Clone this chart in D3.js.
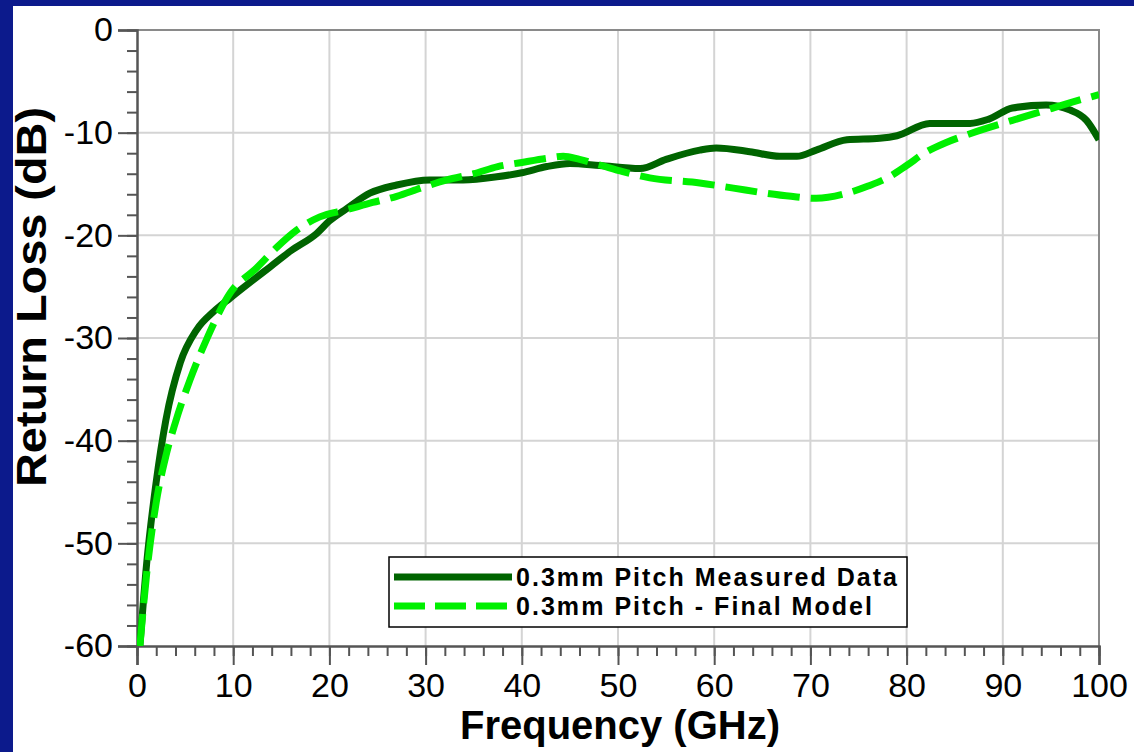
<!DOCTYPE html>
<html>
<head>
<meta charset="utf-8">
<script src="https://cdn.jsdelivr.net/npm/d3@7"></script>
<style>
  html, body { margin: 0; padding: 0; background: #ffffff; }
  svg { display: block; font-family: "Liberation Sans", Arial, sans-serif; }
</style>
</head>
<body>
<script>
// measured return loss (dark green, solid)
const measuredFreq = [0.3, 1, 2, 3, 4.5, 6.2, 8, 9.7, 12, 13.8, 16, 18.7, 20, 21.8, 24.2, 27, 30.4, 33.9, 37.4, 40, 42.6, 45, 48.1, 52.3, 55, 58.5, 60.2, 63.7, 66.8, 68.6, 70.6, 73.8, 77.2, 79, 82.4, 86.6, 88.5, 91, 94.5, 97, 98.7, 100];
const measuredDb = [-60, -52, -44, -38, -32.4, -29.2, -27.4, -26.1, -24.4, -23.1, -21.5, -19.8, -18.6, -17.4, -15.9, -15.1, -14.6, -14.6, -14.3, -13.9, -13.3, -13.0, -13.2, -13.5, -12.6, -11.7, -11.5, -11.85, -12.3, -12.3, -11.7, -10.7, -10.55, -10.3, -9.1, -9.1, -8.7, -7.6, -7.3, -7.8, -8.8, -10.7];

// final model (bright green, dashed)
const modelFreq = [0.3, 1, 2, 3, 4, 5.5, 7.2, 9.7, 12.4, 14.5, 16.6, 19, 21.8, 24.5, 27, 29.5, 32.2, 35, 37.5, 40, 42.6, 44.3, 46, 48.1, 50.5, 53.3, 58.5, 62, 65.4, 68, 70.6, 73.8, 76, 78, 80, 82, 84, 86.6, 91, 94.5, 97.3, 100];
const modelDb = [-60, -53, -46, -41.5, -38.2, -34.1, -30.2, -25.6, -23.2, -21.2, -19.5, -18.2, -17.5, -16.8, -16.2, -15.4, -14.6, -14.0, -13.3, -12.9, -12.5, -12.3, -12.6, -13.15, -13.8, -14.4, -14.9, -15.4, -15.9, -16.2, -16.4, -15.9, -15.2, -14.4, -13.2, -11.9, -11.0, -10.1, -8.8, -7.8, -7.0, -6.3];

const xTicks = [0, 10, 20, 30, 40, 50, 60, 70, 80, 90, 100];
const yTicks = [0, -10, -20, -30, -40, -50, -60];
const seriesNames = ["0.3mm Pitch Measured Data", "0.3mm Pitch - Final Model"];

const W = 1134, H = 752;
const plot = { left: 137, right: 1099, top: 30, bottom: 646 };

const x = d3.scaleLinear().domain([0, 100]).range([plot.left, plot.right]);
const y = d3.scaleLinear().domain([-60, 0]).range([plot.bottom, plot.top]);

const svg = d3.select("body").append("svg")
  .attr("width", W)
  .attr("height", H);

// navy frame (top + left)
svg.append("rect").attr("x", 0).attr("y", 0).attr("width", W).attr("height", H).attr("fill", "#0c1a8c");
svg.append("rect").attr("x", 13).attr("y", 6).attr("width", W - 13).attr("height", H - 6).attr("fill", "#ffffff");

// grid
svg.append("g")
  .selectAll("line.vgrid")
  .data(xTicks.slice(1, -1))
  .enter().append("line")
  .attr("x1", d => x(d)).attr("x2", d => x(d))
  .attr("y1", plot.top).attr("y2", plot.bottom)
  .attr("stroke", "#d4d4d4").attr("stroke-width", 2);

svg.append("g")
  .selectAll("line.hgrid")
  .data(yTicks.slice(1, -1))
  .enter().append("line")
  .attr("x1", plot.left).attr("x2", plot.right)
  .attr("y1", d => y(d)).attr("y2", d => y(d))
  .attr("stroke", "#d4d4d4").attr("stroke-width", 2);

// top + right border
svg.append("path")
  .attr("d", `M${plot.left},${plot.top}H${plot.right}V${plot.bottom}`)
  .attr("fill", "none").attr("stroke", "#8a8a8a").attr("stroke-width", 2);

// axes
const xMinor = d3.range(0, 101, 2);
const yMinor = d3.range(-60, 1, 2);
const plainFmt = d => String(d);  // hyphen minus like the original

const xAxis = svg.append("g")
  .attr("transform", "translate(0," + plot.bottom + ")");
xAxis.append("g")
  .call(d3.axisBottom(x).tickValues(xMinor).tickSize(10).tickFormat(""))
  .call(g => g.selectAll("line").attr("stroke", "#555").attr("stroke-width", 2))
  .call(g => g.select(".domain").remove());
xAxis.append("g")
  .call(d3.axisBottom(x).tickValues(xTicks).tickSize(19).tickPadding(8).tickFormat(plainFmt))
  .call(g => g.selectAll("line").attr("stroke", "#555").attr("stroke-width", 2))
  .call(g => g.select(".domain").attr("stroke", "#555").attr("stroke-width", 2.5))
  .call(g => g.selectAll("text")
    .attr("font-size", 34).attr("fill", "#000")
    .attr("font-family", "'Liberation Sans', Arial, sans-serif"));

const yAxis = svg.append("g")
  .attr("transform", "translate(" + plot.left + ",0)");
yAxis.append("g")
  .call(d3.axisLeft(y).tickValues(yMinor).tickSize(10).tickFormat(""))
  .call(g => g.selectAll("line").attr("stroke", "#555").attr("stroke-width", 2))
  .call(g => g.select(".domain").remove());
yAxis.append("g")
  .call(d3.axisLeft(y).tickValues(yTicks).tickSize(19).tickPadding(5).tickFormat(plainFmt))
  .call(g => g.selectAll("line").attr("stroke", "#555").attr("stroke-width", 2))
  .call(g => g.select(".domain").attr("stroke", "#555").attr("stroke-width", 2.5))
  .call(g => g.selectAll("text")
    .attr("font-size", 34).attr("fill", "#000")
    .attr("font-family", "'Liberation Sans', Arial, sans-serif"));

// axis titles
svg.append("text")
  .attr("x", 620)
  .attr("y", 739)
  .attr("text-anchor", "middle")
  .attr("font-size", 40)
  .attr("font-weight", "bold")
  .text("Frequency (GHz)");

svg.append("text")
  .attr("transform", "translate(46,297) rotate(-90)")
  .attr("text-anchor", "middle")
  .attr("font-size", 43)
  .attr("font-weight", "bold")
  .attr("textLength", 380)
  .attr("lengthAdjust", "spacingAndGlyphs")
  .text("Return Loss (dB)");

// curves
svg.append("clipPath").attr("id", "plotClip")
  .append("rect")
  .attr("x", plot.left).attr("y", plot.top - 10)
  .attr("width", plot.right - plot.left).attr("height", plot.bottom - plot.top + 10);

const line = d3.line()
  .x(d => x(d[0]))
  .y(d => y(d[1]))
  .curve(d3.curveMonotoneX);

const measured = measuredFreq.map((f, i) => [f, measuredDb[i]]);
const model = modelFreq.map((f, i) => [f, modelDb[i]]);

const curves = svg.append("g").attr("clip-path", "url(#plotClip)");

curves.append("path")
  .datum(measured)
  .attr("d", line)
  .attr("fill", "none")
  .attr("stroke", "#006400")
  .attr("stroke-width", 7)
  .attr("stroke-linejoin", "round");

curves.append("path")
  .datum(model)
  .attr("d", line)
  .attr("fill", "none")
  .attr("stroke", "#00f000")
  .attr("stroke-width", 7)
  .attr("stroke-dasharray", "32,11");

// legend
const legend = svg.append("g");
legend.append("rect")
  .attr("x", 389).attr("y", 557)
  .attr("width", 518).attr("height", 70)
  .attr("fill", "#fff").attr("stroke", "#000").attr("stroke-width", 1.5);

const legendStyles = [
  { stroke: "#006400", dash: null, width: 381 },
  { stroke: "#00f000", dash: "31,10", width: 356 }
];

seriesNames.forEach((name, i) => {
  const ly = 577 + i * 29;
  legend.append("line")
    .attr("x1", 394).attr("x2", 512)
    .attr("y1", ly).attr("y2", ly)
    .attr("stroke", legendStyles[i].stroke)
    .attr("stroke-width", 7)
    .attr("stroke-dasharray", legendStyles[i].dash);
  legend.append("text")
    .attr("x", 516).attr("y", ly + 9)
    .attr("font-size", 25)
    .attr("font-weight", "bold")
    .attr("textLength", legendStyles[i].width)
    .attr("lengthAdjust", "spacing")
    .text(name);
});
</script>
</body>
</html>
